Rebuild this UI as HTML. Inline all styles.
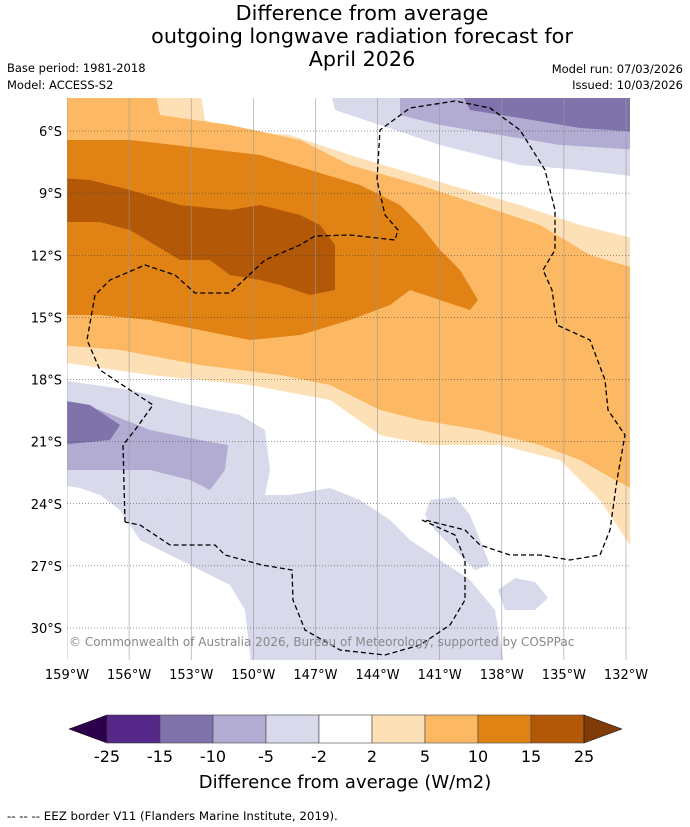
<!DOCTYPE html>
<html><head><meta charset="utf-8">
<style>
body{margin:0;background:#fff;font-family:"DejaVu Sans","Liberation Sans",sans-serif;}
#wrap{position:relative;width:690px;height:827px;overflow:hidden;}
svg{position:absolute;left:0;top:0;}
</style></head>
<body>
<div id="wrap">
<svg id="s" width="690" height="827" viewBox="0 0 690 827">
<g font-size="20.7" text-anchor="middle" fill="#000">
<text x="362" y="20">Difference from average</text>
<text x="362" y="43">outgoing longwave radiation forecast for</text>
<text x="362" y="66">April 2026</text>
</g>
<text x="7" y="72" font-size="11.5">Base period: 1981-2018</text>
<text x="7" y="89" font-size="11.5">Model: ACCESS-S2</text>
<text x="683" y="73" font-size="11.5" text-anchor="end">Model run: 07/03/2026</text>
<text x="683" y="89" font-size="11.5" text-anchor="end">Issued: 10/03/2026</text>
<defs><clipPath id="mc"><rect x="67" y="98" width="563" height="562"/></clipPath></defs>
<g clip-path="url(#mc)">
<rect x="67" y="98" width="563" height="562" fill="#fff"/>
<path fill="#fee0b6" d="M60,90 L200,90 L205,120 L230,130 L290,135 L350,155 L400,170 L450,185 L520,205 L580,225 L640,240 L640,560 L600,500 L560,460 L500,445 L430,445 L380,435 L330,400 L250,385 L150,375 L60,362 Z"/>
<path fill="#fdb863" d="M60,90 L155,90 L160,115 L230,125 L300,140 L350,165 L420,185 L480,205 L540,225 L590,255 L640,270 L640,493 L615,480 L580,460 L540,445 L480,430 L420,420 L380,410 L330,385 L280,375 L200,365 L120,350 L60,345 Z"/>
<path fill="#e08214" d="M60,140 L130,140 L200,148 L260,155 L310,170 L360,185 L400,205 L420,225 L440,250 L460,270 L478,300 L470,310 L440,300 L410,290 L390,305 L350,320 L300,335 L250,340 L200,330 L150,320 L100,315 L60,315 Z"/>
<path fill="#b35806" d="M60,178 L90,180 L130,190 L180,205 L230,210 L260,205 L300,215 L320,225 L335,245 L335,290 L310,295 L280,285 L260,280 L230,275 L210,260 L180,260 L130,230 L100,222 L60,222 Z"/>
<path fill="#d8daeb" d="M330,90 L335,110 L380,125 L440,145 L520,165 L580,170 L640,177 L640,90 Z"/>
<path fill="#b2abd2" d="M400,90 L400,115 L440,125 L500,135 L560,145 L640,150 L640,90 Z"/>
<path fill="#8073ac" d="M460,90 L470,110 L520,118 L580,128 L640,132 L640,90 Z"/>
<path fill="#d8daeb" d="M60,380 L130,390 L190,405 L240,415 L265,430 L270,470 L265,495 L290,495 L330,488 L360,500 L390,520 L410,540 L440,560 L470,580 L495,610 L505,670 L252,670 L245,610 L230,585 L200,570 L170,555 L140,540 L120,510 L100,495 L80,488 L60,485 Z"/>
<path fill="#d8daeb" d="M430,500 L455,497 L470,515 L480,540 L490,565 L475,570 L455,550 L435,530 L425,515 Z"/>
<path fill="#d8daeb" d="M498,590 L515,578 L535,582 L548,598 L535,610 L505,610 Z"/>
<path fill="#b2abd2" d="M60,400 L100,410 L150,430 L200,440 L228,445 L225,470 L210,490 L190,480 L150,470 L100,470 L60,470 Z"/>
<path fill="#8073ac" d="M60,400 L90,405 L120,425 L110,440 L60,445 Z"/>
<g id="grid"></g>
<path fill="none" stroke="#000" stroke-width="1.3" stroke-dasharray="5,3" d="M125,522 L123,445 L135,430 L153,405 L130,390 L100,370 L87,340 L95,295 L110,280 L145,265 L175,275 L195,293 L230,293 L265,260 L300,245 L315,236 L350,235 L395,240 L398,230 L385,215 L377,180 L380,130 L410,108 L455,101 L490,108 L520,130 L545,170 L555,210 L555,250 L543,270 L552,290 L557,325 L590,340 L605,380 L608,410 L625,435 L617,480 L610,530 L600,555 L570,560 L540,555 L510,555 L480,545 L465,530 L425,520 M422,520 L455,535 L465,560 L465,600 L450,625 L420,645 L385,655 L340,650 L305,630 L293,600 L292,570 L262,565 L225,555 L215,545 L170,545 L140,525 L125,522"/>
<text x="69" y="646" font-size="12" fill="#888">© Commonwealth of Australia 2026, Bureau of Meteorology, supported by COSPPac</text>
</g>
<g id="axes"></g>
<g id="cbar"></g>
<text x="345" y="788" font-size="18" text-anchor="middle">Difference from average (W/m2)</text>
<text x="7" y="820" font-size="11.8">--  --  -- EEZ border V11 (Flanders Marine Institute, 2019).</text>
</svg>
</div>
<script>
const lonTicks=[159,156,153,150,147,144,141,138,135,132];
const latTicks=[6,9,12,15,18,21,24,27,30];
const cbLevels=[-25,-15,-10,-5,-2,2,5,10,15,25];
const cbColors=["#542788","#8073ac","#b2abd2","#d8daeb","#ffffff","#fee0b6","#fdb863","#e08214","#b35806"];
const NS="http://www.w3.org/2000/svg";
function xLon(l){return 67+(159-l)*(559/27);}
function yLat(l){return 131+(l-6)*(497/24);}
function mk(t,a,p){const e=document.createElementNS(NS,t);for(const k in a)e.setAttribute(k,a[k]);p.appendChild(e);return e;}
const grid=document.getElementById('grid'),axes=document.getElementById('axes'),cb=document.getElementById('cbar');
lonTicks.forEach(l=>{const x=xLon(l);
 const g=mk('line',{x1:x,x2:x,y1:98,y2:660,stroke:'#999','stroke-width':0.6},grid);
 
 const t=mk('text',{x:x,y:679,'font-size':13,'text-anchor':'middle'},axes);t.textContent=l+'°W';
 });
latTicks.forEach(l=>{const y=yLat(l);
 const g=mk('line',{x1:67,x2:630,y1:y,y2:y,stroke:'#333','stroke-width':0.6,'stroke-dasharray':'1,2'},grid);
 
 const t=mk('text',{x:62,y:y+5,'font-size':13,'text-anchor':'end'},axes);t.textContent=l+'°S';
 });
const cx0=107,cw=53,cy=715,ch=28;
const lt=mk('polygon',{points:`${cx0},${cy} ${cx0},${cy+ch} 69,${cy+ch/2}`,fill:'#2d004b',stroke:'#000','stroke-width':0.5},cb);

cbColors.forEach((c,i)=>{const r=mk('rect',{x:cx0+i*cw,y:cy,width:cw,height:ch,fill:c,stroke:'#444','stroke-width':0.6},cb);
 });
const xe=cx0+cbColors.length*cw;
const rt=mk('polygon',{points:`${xe},${cy} ${xe},${cy+ch} ${xe+38},${cy+ch/2}`,fill:'#7f3b08',stroke:'#000','stroke-width':0.5},cb);

cbLevels.forEach((v,i)=>{const t=mk('text',{x:cx0+i*cw,y:762,'font-size':16,'text-anchor':'middle'},cb);t.textContent=v;
 });
</script>
</body></html>
